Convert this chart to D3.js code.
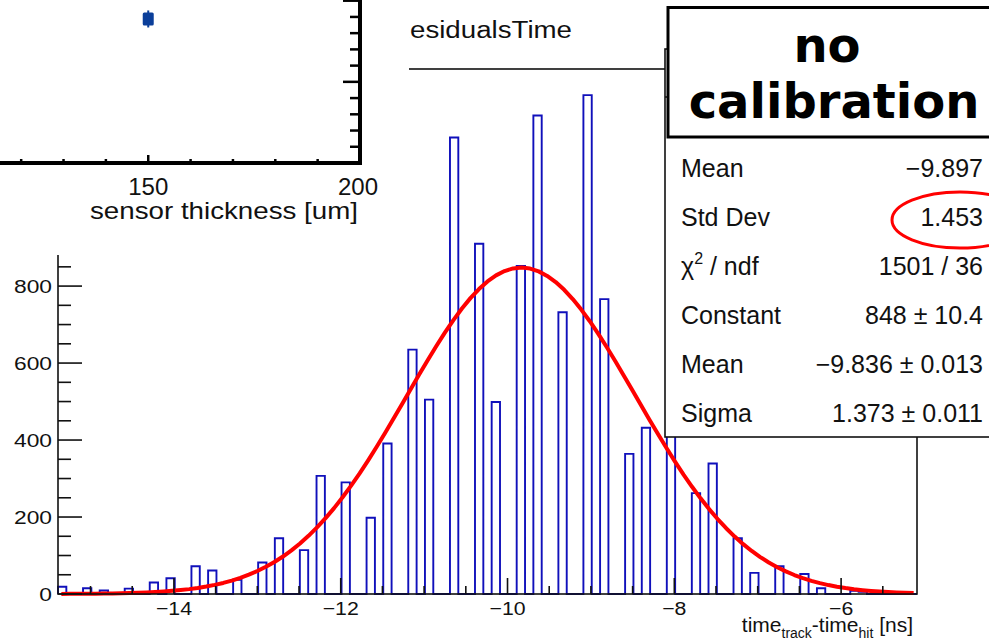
<!DOCTYPE html>
<html>
<head>
<meta charset="utf-8">
<script src="https://cdn.jsdelivr.net/npm/d3@7"></script>
<style>
  body { margin: 0; background: #fff; }
  svg { display: block; }
  text { font-family: "Liberation Sans", Arial, Helvetica, sans-serif; fill: #111; }
</style>
</head>
<body>
<svg id="chart" width="989" height="640"></svg>
<script>
// ---- histogram: time residuals, 0.1 ns bins ----
const binStart = -15.39;
const binWidth = 0.1;
const binCount = 103;
const filledBinIndex = [0, 3, 5, 8, 11, 13, 16, 18, 21, 24, 26, 29, 31, 34, 37, 39, 42, 44, 47, 50,
                        52, 55, 57, 60, 63, 65, 68, 70, 73, 76, 78, 81, 83, 86, 89, 91, 95, 96];
const filledBinCount = [19, 15, 9, 14, 30, 41, 72, 61, 37, 82, 145, 114, 307, 290, 198, 391, 635, 505, 1186, 910,
                        499, 852, 1243, 732, 1296, 766, 364, 432, 455, 262, 339, 145, 55, 72, 52, 15, 8, 6];

// ---- gaussian fit result ----
const fitConstant = 848;
const fitMean = -9.836;
const fitSigma = 1.373;

// ---- axis labels ----
const xTickLabels = [-14, -12, -10, -8, -6];
const yTickLabels = [0, 200, 400, 600, 800, 1000, 1200];

// ---- statistics box ----
const statLabels = ["Mean", "Std Dev", "χ^2 / ndf", "Constant", "Mean", "Sigma"];
const statValues = ["\u22129.897", "1.453", "1501 / 36", "848 \u00b1 10.4", "\u22129.836 \u00b1 0.013", "1.373 \u00b1 0.011"];

// ---- small thickness plot in the corner ----
const thicknessValues = [150];
const thicknessResult = [1.775];
const thicknessError = [0.105];
const thicknessTickLabels = [150, 200];

const svg = d3.select("#chart");

const x = d3.scaleLinear().domain([binStart, binStart + binCount * binWidth]).range([58, 917]);
const y = d3.scaleLinear().domain([0, 1364]).range([594, 69]);

// histogram outline
const counts = new Array(binCount).fill(0);
filledBinIndex.forEach((b, i) => { counts[b] = filledBinCount[i]; });
const edge = i => binStart + i * binWidth;
const stepPts = [[edge(0), 0]];
counts.forEach((c, i) => stepPts.push([edge(i), c]));
stepPts.push([edge(binCount), 0]);
svg.append("path")
  .attr("d", d3.line().x(d => x(d[0])).y(d => y(d[1])).curve(d3.curveStepAfter)(stepPts))
  .attr("fill", "none").attr("stroke", "#1010bb").attr("stroke-width", 1.9);

// fitted gaussian
const gauss = v => fitConstant * Math.exp(-0.5 * Math.pow((v - fitMean) / fitSigma, 2));
const fitX = d3.range(0, 101).map(k => -15.35 + k * (10.22 / 100));
svg.append("path")
  .attr("d", d3.line().x(v => x(v)).y(v => y(gauss(v)))(fitX))
  .attr("fill", "none").attr("stroke", "#ff0000").attr("stroke-width", 4)
  .attr("stroke-linejoin", "round");

// frame
svg.append("rect")
  .attr("x", x.range()[0]).attr("y", y.range()[1])
  .attr("width", x.range()[1] - x.range()[0]).attr("height", y.range()[0] - y.range()[1])
  .attr("fill", "none").attr("stroke", "#111").attr("stroke-width", 1.6);

// x axis ticks (inside, pointing up)
const xMajor = x.ticks(5);
const xMinor = x.ticks(20).filter(t => !xMajor.some(m => Math.abs(m - t) < 1e-9));
svg.append("g").selectAll("line").data(xMinor).join("line")
  .attr("x1", d => x(d)).attr("x2", d => x(d)).attr("y1", y(0)).attr("y2", y(0) - 8)
  .attr("stroke", "#111").attr("stroke-width", 1.6);
svg.append("g").selectAll("line").data(xMajor).join("line")
  .attr("x1", d => x(d)).attr("x2", d => x(d)).attr("y1", y(0)).attr("y2", y(0) - 16)
  .attr("stroke", "#111").attr("stroke-width", 1.6);
const fmt = d3.format("d");
svg.append("g").selectAll("text").data(xTickLabels).join("text")
  .attr("transform", d => `translate(${x(d)},615) scale(1.12,1)`)
  .attr("text-anchor", "middle").attr("font-size", 19).text(d => fmt(d));

// y axis ticks (inside, pointing right)
const yMajor = y.ticks(7);
const yMinor = y.ticks(28).filter(t => t % 200 !== 0);
svg.append("g").selectAll("line").data(yMinor).join("line")
  .attr("x1", x.range()[0]).attr("x2", x.range()[0] + 13).attr("y1", d => y(d)).attr("y2", d => y(d))
  .attr("stroke", "#111").attr("stroke-width", 1.6);
svg.append("g").selectAll("line").data(yMajor).join("line")
  .attr("x1", x.range()[0]).attr("x2", x.range()[0] + 24).attr("y1", d => y(d)).attr("y2", d => y(d))
  .attr("stroke", "#111").attr("stroke-width", 1.6);
svg.append("g").selectAll("text").data(yTickLabels).join("text")
  .attr("transform", d => `translate(52,${y(d) + 7}) scale(1.2,1)`)
  .attr("text-anchor", "end").attr("font-size", 19).text(d => fmt(d));

// x axis title
const xt = svg.append("text").attr("x", 913).attr("y", 632).attr("text-anchor", "end").attr("font-size", 21);
xt.append("tspan").text("time");
xt.append("tspan").attr("font-size", 14).attr("dy", 6).text("track");
xt.append("tspan").attr("dy", -6).text("-time");
xt.append("tspan").attr("font-size", 14).attr("dy", 6).text("hit");
xt.append("tspan").attr("dy", -6).text(" [ns]");

// histogram title
svg.append("text").attr("x", 390).attr("y", 38).attr("font-size", 23)
  .attr("textLength", 182).attr("lengthAdjust", "spacingAndGlyphs").text("ResidualsTime");

// statistics box
const statTop = 49, statBottom = 437, statLeft = 665;
svg.append("rect").attr("x", statLeft).attr("y", statTop).attr("width", 360).attr("height", statBottom - statTop)
  .attr("fill", "#fff").attr("stroke", "#111").attr("stroke-width", 1.6);
svg.append("line").attr("x1", statLeft).attr("x2", 989).attr("y1", 97).attr("y2", 97)
  .attr("stroke", "#111").attr("stroke-width", 1.6);
const rowY = i => 177 + i * 49;
statLabels.forEach((lab, i) => {
  const t = svg.append("text").attr("x", 681).attr("y", rowY(i)).attr("font-size", 25);
  const parts = lab.split("^");
  if (parts.length > 1) {
    t.append("tspan").text(parts[0]);
    t.append("tspan").attr("font-size", 16).attr("dy", -11).text(parts[1].charAt(0));
    t.append("tspan").attr("dy", 11).text(parts[1].slice(1));
  } else {
    t.text(lab);
  }
  svg.append("text").attr("x", 983).attr("y", rowY(i)).attr("font-size", 25)
    .attr("text-anchor", "end").text(statValues[i]);
});

// highlight around the standard deviation
svg.append("ellipse").attr("cx", 960).attr("cy", 220).attr("rx", 68).attr("ry", 28)
  .attr("fill", "none").attr("stroke", "#ff0000").attr("stroke-width", 3);

// "no calibration" label box
svg.append("rect").attr("x", 668).attr("y", 7.5).attr("width", 340).attr("height", 129.5)
  .attr("fill", "#fff").attr("stroke", "#000").attr("stroke-width", 3);
svg.append("text").attr("x", 827).attr("y", 62).attr("text-anchor", "middle")
  .style("font-family", "'DejaVu Sans', sans-serif").style("font-weight", "bold")
  .attr("font-size", 48).style("fill", "#000").text("no");
svg.append("text").attr("x", 834).attr("y", 118).attr("text-anchor", "middle")
  .style("font-family", "'DejaVu Sans', sans-serif").style("font-weight", "bold")
  .attr("font-size", 48).style("fill", "#000").text("calibration");

// ---- corner plot: result versus sensor thickness ----
const inset = svg.append("g");
inset.append("rect").attr("x", 0).attr("y", 0).attr("width", 409).attr("height", 255).attr("fill", "#fff");
const ix = d3.scaleLinear().domain([115, 200]).range([0, 360]);
const iy = d3.scaleLinear().domain([0, 2]).range([163, 0.7]);

const ixMinor = ix.ticks(10).filter(t => t % 50 !== 0);
inset.append("g").selectAll("line").data(ixMinor).join("line")
  .attr("x1", d => ix(d)).attr("x2", d => ix(d)).attr("y1", iy(0)).attr("y2", iy(0) - 4)
  .attr("stroke", "#000").attr("stroke-width", 2.5);
inset.append("g").selectAll("line").data(thicknessTickLabels).join("line")
  .attr("x1", d => ix(d)).attr("x2", d => ix(d)).attr("y1", iy(0)).attr("y2", iy(0) - 8)
  .attr("stroke", "#000").attr("stroke-width", 2.5);
const iyMinor = d3.range(0, 11).map(k => k * 0.2).filter(v => Math.abs(v - Math.round(v)) > 1e-6);
inset.append("g").selectAll("line").data(iyMinor).join("line")
  .attr("x1", ix(200)).attr("x2", ix(200) - 10).attr("y1", d => iy(d)).attr("y2", d => iy(d))
  .attr("stroke", "#000").attr("stroke-width", 2.5);
inset.append("g").selectAll("line").data([1, 2]).join("line")
  .attr("x1", ix(200)).attr("x2", ix(200) - 17).attr("y1", d => iy(d)).attr("y2", d => iy(d))
  .attr("stroke", "#000").attr("stroke-width", 2.5);
inset.append("line").attr("x1", 0).attr("x2", ix(200) + 2).attr("y1", iy(0)).attr("y2", iy(0))
  .attr("stroke", "#000").attr("stroke-width", 4);
inset.append("line").attr("x1", ix(200)).attr("x2", ix(200)).attr("y1", 0).attr("y2", iy(0) + 2)
  .attr("stroke", "#000").attr("stroke-width", 4);

// measured point with error bar
inset.append("g").selectAll("line").data(thicknessValues).join("line")
  .attr("x1", d => ix(d)).attr("x2", d => ix(d))
  .attr("y1", (d, i) => iy(thicknessResult[i] + thicknessError[i]))
  .attr("y2", (d, i) => iy(thicknessResult[i] - thicknessError[i]))
  .attr("stroke", "#0b3f9a").attr("stroke-width", 2);
inset.append("g").selectAll("rect").data(thicknessValues).join("rect")
  .attr("x", d => ix(d) - 5.5).attr("y", (d, i) => iy(thicknessResult[i]) - 6.5)
  .attr("width", 11).attr("height", 13).attr("rx", 1.5).attr("fill", "#0b3f9a");

inset.append("g").selectAll("text").data(thicknessTickLabels).join("text")
  .attr("x", d => ix(d) - (d === 200 ? 2 : 0)).attr("y", 195).attr("text-anchor", "middle")
  .attr("font-size", 24).text(d => d);
inset.append("text").attr("x", 90).attr("y", 219).attr("font-size", 24)
  .attr("textLength", 268).attr("lengthAdjust", "spacingAndGlyphs").text("sensor thickness [um]");
</script>
</body>
</html>
